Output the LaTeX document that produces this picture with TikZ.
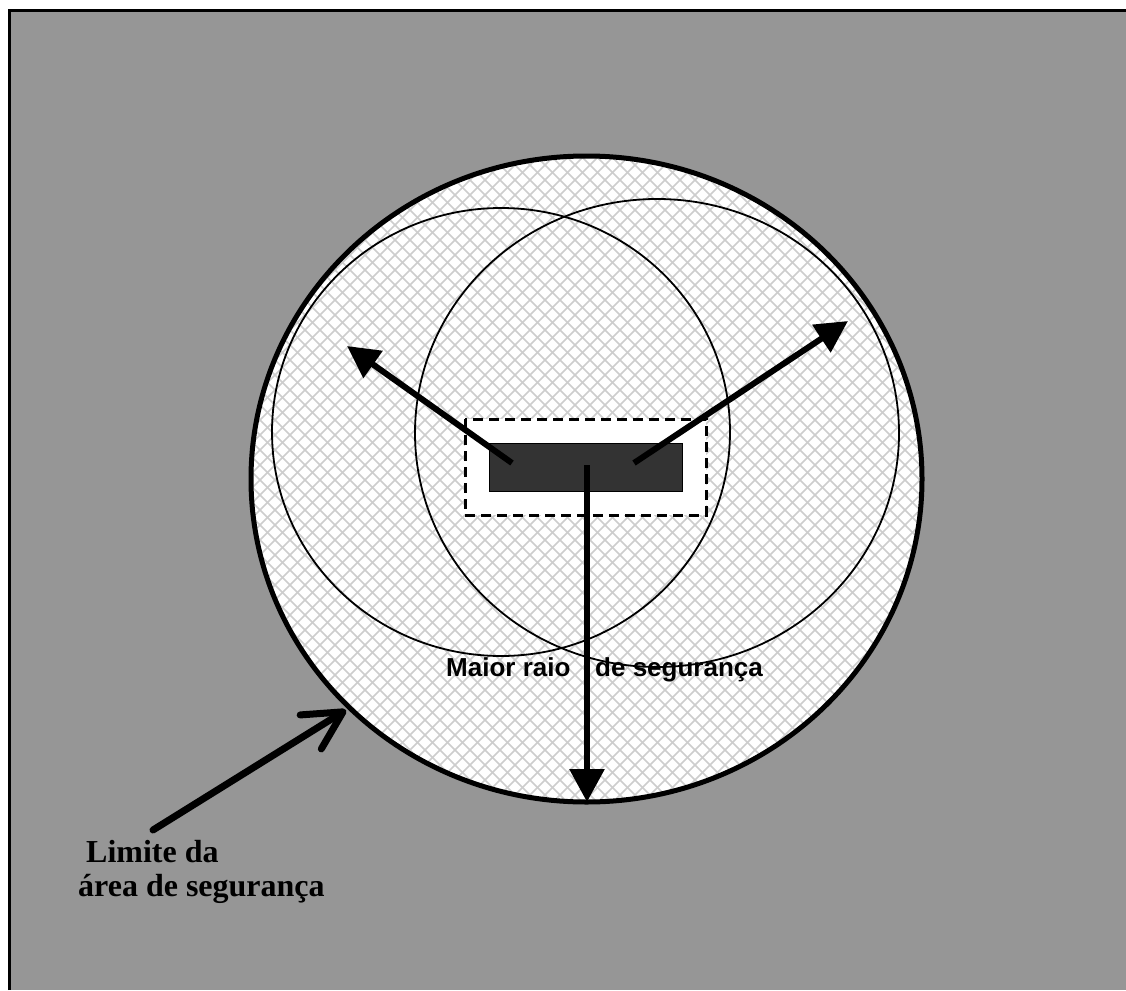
\documentclass[tikz,border=0pt]{standalone}
\usepackage{fontspec}
\usetikzlibrary{arrows.meta}
\newfontfamily\arialfont{Liberation Sans}
\newfontfamily\timesfont{Liberation Serif}
\definecolor{bggray}{RGB}{150,150,150}
\definecolor{hatchgray}{RGB}{205,205,205}
\definecolor{boxdark}{RGB}{51,51,51}
\tikzset{
  outerring/.style={line width=5pt},
  zonering/.style={line width=1.8pt},
  hatchline/.style={hatchgray, line width=1.5pt},
  radiusarrow/.style={line width=6pt, -{Triangle[length=32pt,width=32pt]}},
  downarrow/.style={line width=6pt, -{Triangle[length=33pt,width=34pt]}},
  limitarrow/.style={line width=7pt, line cap=round, -{Straight Barb[length=38pt,width=40pt,line cap=round,round]}},
  sanslabel/.style={font=\arialfont\bfseries\fontsize{26}{30}\selectfont, inner sep=0pt, anchor=base west},
  seriflabel/.style={font=\timesfont\bfseries\fontsize{32}{36}\selectfont, inner sep=0pt, anchor=base west}
}
\begin{document}
\begin{tikzpicture}[x=1pt,y=-1pt]
\useasboundingbox (0,0) rectangle (1126,990);
% background
\fill[bggray] (9,11) rectangle (1126,990);
\draw[line width=3pt] (9,990) -- (9,11) -- (1126,11);
% safety area with crosshatch
\fill[white] (586.5,479) ellipse [x radius=335.5pt, y radius=323pt];
\begin{scope}
  \clip (586.5,479) ellipse [x radius=335.5pt, y radius=323pt];
  \foreach \c in {-565,-550,...,790} {
    \draw[hatchline] (\c+100,100) -- (\c+900,900);
  }
  \foreach \c in {395,410,...,1750} {
    \draw[hatchline] (\c-100,100) -- (\c-900,900);
  }
\end{scope}
% dashed zone around the source
\fill[white] (465,419) rectangle (706,515);
\draw[line width=3pt, dash pattern=on 10pt off 6pt] (465,419) rectangle (706,515);
% outer limit
\draw[outerring] (586.5,479) ellipse [x radius=335.5pt, y radius=323pt];
% zones
\draw[zonering] (501,432) ellipse [x radius=229pt, y radius=224pt];
\draw[zonering] (657,433) ellipse [x radius=242pt, y radius=234pt];
% source
\node[draw=black, line width=1pt, fill=boxdark, minimum width=193pt, minimum height=48pt, inner sep=0pt] (src) at (585.5,467) {};
% arrow endpoints
\coordinate (sl) at (512,463);
\coordinate (sr) at (634,463);
\coordinate (sd) at (587,465);
\coordinate (tl) at (347,346);
\coordinate (tr) at (848,321);
\coordinate (td) at (587,802);
\coordinate (limstart) at (153,830);
\coordinate (limtip) at (346,710);
\draw[radiusarrow] (sl) -- (tl);
\draw[radiusarrow] (sr) -- (tr);
\draw[downarrow] (sd) -- (td);
\draw[limitarrow] (limstart) -- (limtip);
% labels
\node[sanslabel] (lab1) at (446,676) {Maior raio};
\node[sanslabel] (lab2) at (595,676) {de segurança};
\node[seriflabel] (lim1) at (86,862) {Limite da};
\node[seriflabel] (lim2) at (78,896) {área de segurança};
\end{tikzpicture}
\end{document}
